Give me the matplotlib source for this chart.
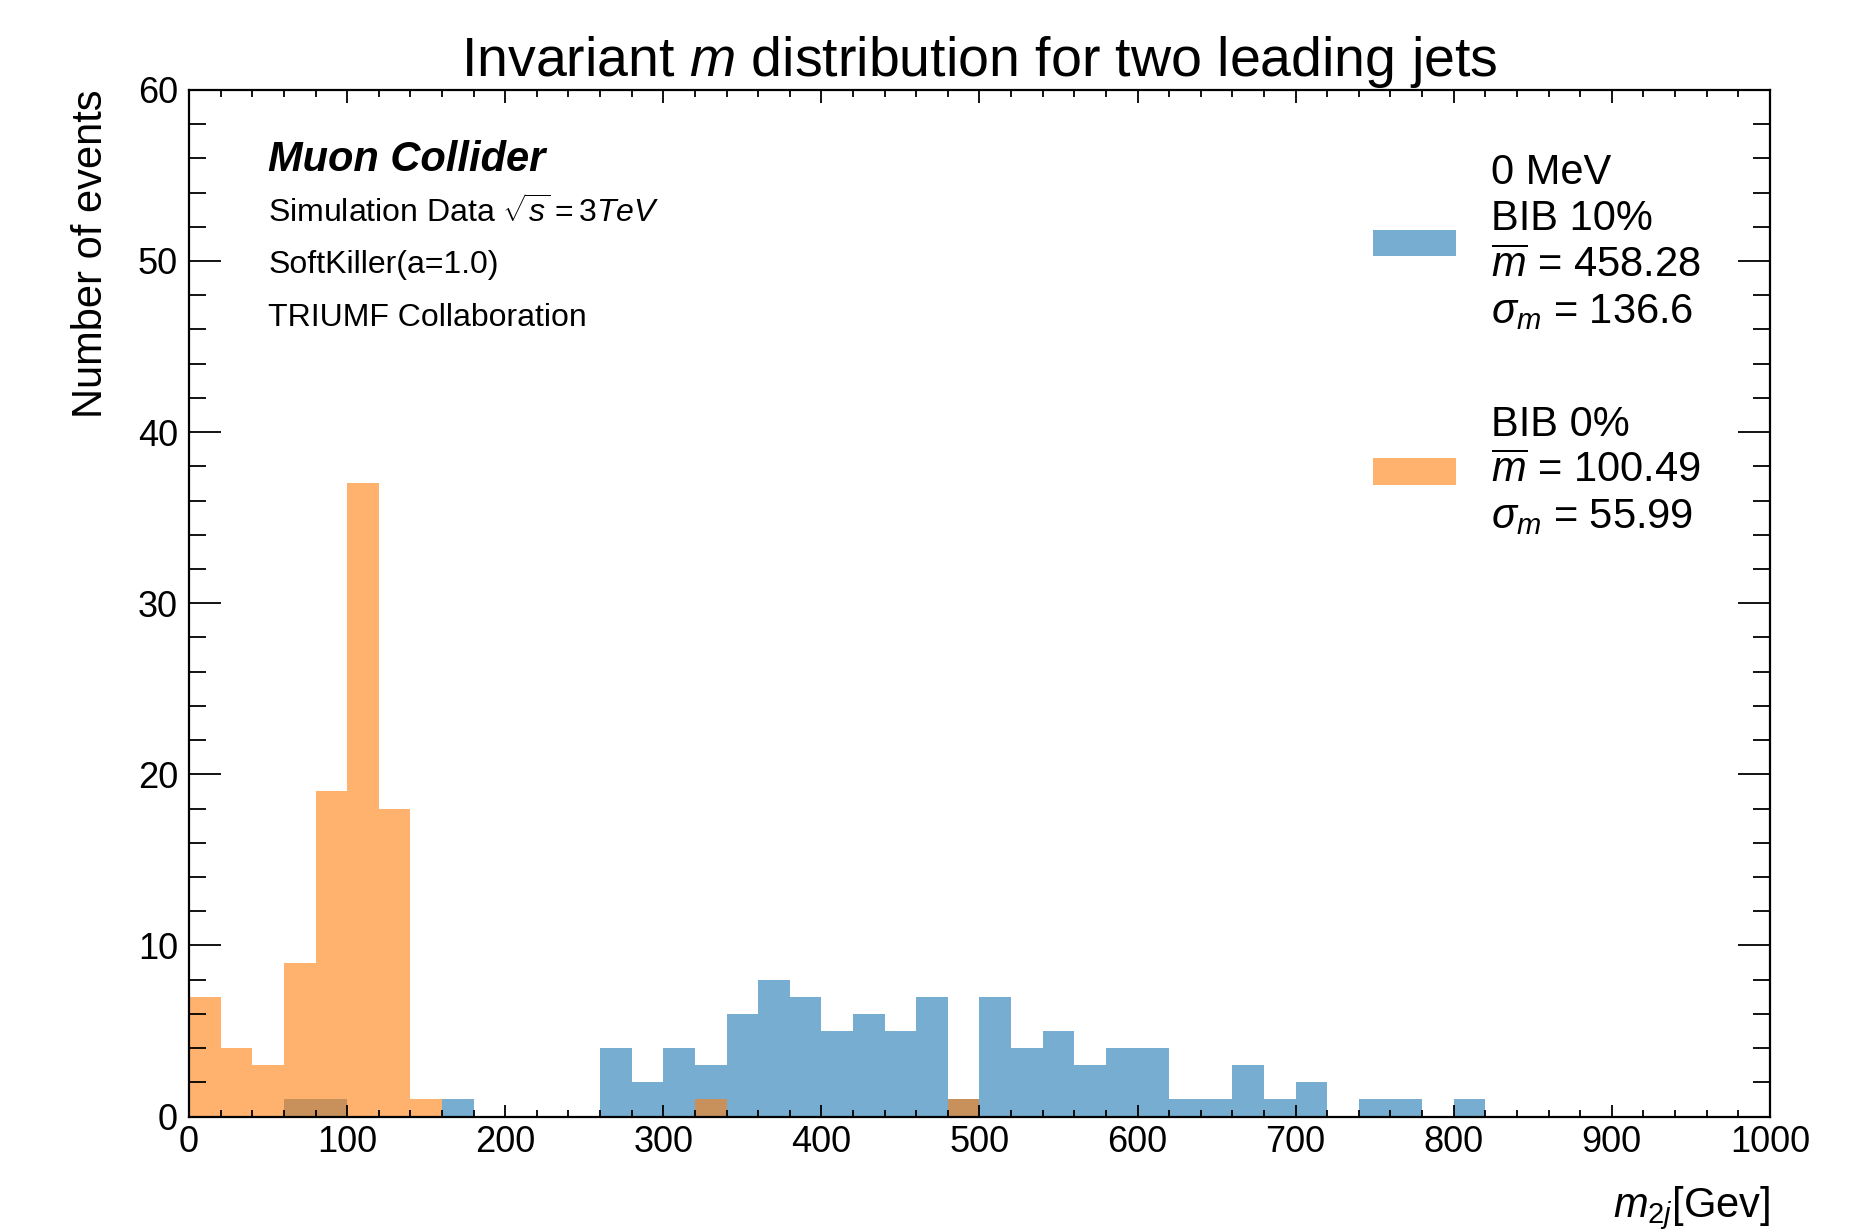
import numpy as np
import matplotlib
matplotlib.use("Agg")
import matplotlib.pyplot as plt
from matplotlib.ticker import MultipleLocator

plt.rcParams["font.family"] = ["Liberation Sans", "DejaVu Sans"]
plt.rcParams["mathtext.fontset"] = "custom"
plt.rcParams["mathtext.rm"] = "Liberation Sans"
plt.rcParams["mathtext.it"] = "Liberation Sans:italic"
plt.rcParams["mathtext.bf"] = "Liberation Sans:bold"

# Bin edges: 20 GeV wide from 0 to 1000
bin_edges = np.arange(0, 1001, 20)

# Counts per bin (BIB 10%), keyed by bin lower edge
bib10_low_edges = [60, 80, 160, 260, 280, 300, 320, 340, 360, 380, 400, 420, 440,
                   460, 480, 500, 520, 540, 560, 580, 600, 620, 640, 660, 680, 700,
                   740, 760, 800]
bib10_counts = [1, 1, 1, 4, 2, 4, 3, 6, 8, 7, 5, 6, 5,
                7, 1, 7, 4, 5, 3, 4, 4, 1, 1, 3, 1, 2,
                1, 1, 1]

# Counts per bin (BIB 0%)
bib0_low_edges = [0, 20, 40, 60, 80, 100, 120, 140, 320, 480]
bib0_counts = [7, 4, 3, 9, 19, 37, 18, 1, 1, 1]

bib10_label = "0 MeV\nBIB 10%\n$\\overline{m}$ = 458.28\n$\\sigma_m$ = 136.6"
bib0_label = "BIB 0%\n$\\overline{m}$ = 100.49\n$\\sigma_m$ = 55.99"


def to_weights(low_edges, counts):
    w = np.zeros(len(bin_edges) - 1)
    for lo, c in zip(low_edges, counts):
        w[int(lo // 20)] = c
    return w


centers = bin_edges[:-1] + 10
w10 = to_weights(bib10_low_edges, bib10_counts)
w0 = to_weights(bib0_low_edges, bib0_counts)

fig = plt.figure(figsize=(18.63, 12.31), dpi=100)
ax = fig.add_axes([0.1015, 0.093, 0.8485, 0.834])

ax.hist(centers, bins=bin_edges, weights=w10, color="#1f77b4", alpha=0.6,
        label=bib10_label)
ax.hist(centers, bins=bin_edges, weights=w0, color="#ff7f0e", alpha=0.6,
        label=bib0_label)

ax.set_xlim(0, 1000)
ax.set_ylim(0, 60)
ax.xaxis.set_major_locator(MultipleLocator(100))
ax.xaxis.set_minor_locator(MultipleLocator(20))
ax.yaxis.set_major_locator(MultipleLocator(10))
ax.yaxis.set_minor_locator(MultipleLocator(2))

ax.tick_params(axis="both", which="both", direction="in", top=True, right=True,
               labelsize=26, width=1.3)
ax.tick_params(axis="y", which="major", length=23, pad=8)
ax.tick_params(axis="y", which="minor", length=12)
ax.tick_params(axis="x", which="major", length=9, pad=6)
ax.tick_params(axis="x", which="minor", length=5)
for s in ax.spines.values():
    s.set_linewidth(1.6)

ax.set_title("Invariant $m$ distribution for two leading jets", fontsize=40, pad=6)
ax.set_xlabel("$m_{2j}$[Gev]", fontsize=30, loc="right", labelpad=18)
ax.set_ylabel("Number of events", fontsize=30, loc="top", labelpad=19)

ax.text(0.05, 0.932, "Muon Collider", transform=ax.transAxes, fontsize=30,
        fontweight="bold", fontstyle="italic", va="center")
ax.text(0.05, 0.880, "Simulation Data $\\sqrt{s} = 3TeV$", transform=ax.transAxes,
        fontsize=23, va="center")
ax.text(0.05, 0.829, "SoftKiller(a=1.0)", transform=ax.transAxes, fontsize=23,
        va="center")
ax.text(0.05, 0.778, "TRIUMF Collaboration", transform=ax.transAxes, fontsize=23,
        va="center")

ax.legend(loc="upper right", bbox_to_anchor=(0.98, 0.975), frameon=False,
          fontsize=30, handlelength=2.0, handleheight=0.6, labelspacing=1.75,
          handletextpad=0.84)

fig.savefig("out.png", dpi=100)
